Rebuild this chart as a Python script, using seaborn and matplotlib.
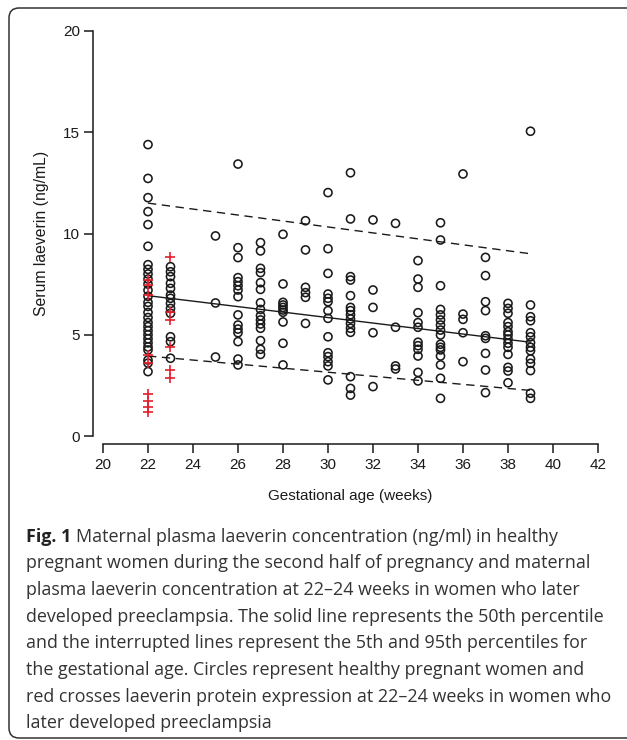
"""Serum laeverin by gestational age, with percentile lines and preeclampsia cases."""

import matplotlib

matplotlib.use("Agg")

import matplotlib.pyplot as plt
import pandas as pd
import seaborn as sns
from matplotlib.patches import FancyBboxPatch

# healthy women, serum laeverin (ng/mL) per gestational week
w22 = [14.39, 12.72, 11.77, 11.08, 10.44, 9.37, 8.46, 8.23, 8.0, 7.75, 7.5, 7.2,
       6.9, 6.6, 6.4, 6.1, 5.85, 5.6, 5.4, 5.2, 5.0, 4.8, 4.6, 4.4, 4.25, 3.75,
       3.6, 3.18]
w23 = [8.36, 8.11, 7.87, 7.54, 7.29, 6.96, 6.80, 6.55, 6.30, 6.06, 4.90, 4.66, 3.84]
w25 = [9.88, 6.57, 3.90]
w26 = [13.43, 9.30, 8.81, 7.82, 7.62, 7.42, 7.21, 6.88, 5.98, 5.48, 5.28, 5.10,
       4.66, 3.80, 3.51]
w27 = [9.55, 9.14, 8.28, 8.07, 7.57, 7.24, 6.58, 6.25, 5.94, 5.73, 5.53, 5.32,
       4.71, 4.28, 4.03]
w28 = [9.96, 7.51, 6.60, 6.47, 6.35, 6.22, 6.11, 5.63, 4.58, 3.51]
w29 = [10.63, 9.19, 7.34, 7.08, 6.85, 5.56]
w30 = [12.02, 9.25, 8.03, 7.01, 6.80, 6.63, 6.19, 5.81, 4.90, 4.11, 3.92, 3.67,
       3.46, 2.77]
w31 = [13.0, 10.72, 7.87, 7.70, 6.93, 6.35, 6.19, 5.99, 5.78, 5.56, 5.32, 5.12,
       2.93, 2.35, 2.02]
w32 = [10.67, 7.21, 6.35, 5.10, 2.44]
w33 = [10.50, 5.37, 3.46, 3.31]
w34 = [8.66, 7.75, 7.34, 6.09, 5.60, 5.37, 4.63, 4.46, 4.28, 3.95, 3.14, 2.72]
w35 = [10.53, 9.68, 7.42, 6.25, 5.98, 5.73, 5.48, 5.23, 4.99, 4.53, 4.38, 4.25,
       3.95, 3.51, 2.85, 1.86]
w36 = [12.94, 6.02, 5.76, 5.10, 3.67]
w37 = [8.82, 7.92, 6.63, 6.19, 4.95, 4.82, 4.08, 3.26, 2.14]
w38 = [6.55, 6.30, 6.06, 5.60, 5.40, 5.15, 4.99, 4.79, 4.58, 4.38, 4.03, 3.39,
       3.21, 2.63]
w39 = [15.05, 6.47, 5.89, 5.69, 5.10, 4.90, 4.61, 4.38, 4.21, 3.80, 3.59, 3.23,
       2.11, 1.86]

# women who later developed preeclampsia
pe22 = [7.70, 7.46, 6.96, 4.0, 3.59, 2.05, 1.75, 1.45, 1.2]
pe23 = [8.85, 6.14, 5.73, 4.41, 3.26, 2.85]

# percentile lines (start and end week)
pct_weeks = [22, 39]
p50 = [6.93, 4.63]
p5 = [3.95, 2.25]
p95 = [11.5, 9.0]

x_ticks = list(range(20, 43, 2))
y_ticks = [0, 5, 10, 15, 20]

caption_lines = [
    "Maternal plasma laeverin concentration (ng/ml) in healthy",
    "pregnant women during the second half of pregnancy and maternal",
    "plasma laeverin concentration at 22\u201324 weeks in women who later",
    "developed preeclampsia. The solid line represents the 50th percentile",
    "and the interrupted lines represent the 5th and 95th percentiles for",
    "the gestational age. Circles represent healthy pregnant women and",
    "red crosses laeverin protein expression at 22\u201324 weeks in women who",
    "later developed preeclampsia",
]

RED = "#e2202c"
INK = "#1a1a1a"


def build_frames():
    healthy = {22: w22, 23: w23, 25: w25, 26: w26, 27: w27, 28: w28, 29: w29,
               30: w30, 31: w31, 32: w32, 33: w33, 34: w34, 35: w35, 36: w36,
               37: w37, 38: w38, 39: w39}
    rows = [(wk, v) for wk, vals in healthy.items() for v in vals]
    healthy_df = pd.DataFrame(rows, columns=["week", "laeverin"])
    pe_rows = [(22, v) for v in pe22] + [(23, v) for v in pe23]
    pe_df = pd.DataFrame(pe_rows, columns=["week", "laeverin"])
    pct_df = pd.DataFrame({"week": pct_weeks, "p5": p5, "p50": p50, "p95": p95})
    return healthy_df, pe_df, pct_df


def main():
    sns.set_theme(style="ticks")
    plt.rcParams["font.family"] = ["Liberation Sans", "DejaVu Sans"]

    healthy_df, pe_df, pct_df = build_frames()

    fig = plt.figure(figsize=(6.27, 7.40), dpi=100)
    ax = fig.add_axes([103 / 627, 304 / 740, 495 / 627, 405 / 740])

    sns.lineplot(data=pct_df, x="week", y="p50", ax=ax, color=INK, lw=1.0)
    for col in ["p5", "p95"]:
        sns.lineplot(data=pct_df, x="week", y=col, ax=ax, color=INK, lw=1.0,
                     dashes=False, linestyle=(0, (6, 4)))

    sns.scatterplot(data=healthy_df, x="week", y="laeverin", ax=ax, marker="o",
                    s=34, facecolor="none", edgecolor=INK, linewidth=1.15, zorder=3)
    sns.scatterplot(data=pe_df, x="week", y="laeverin", ax=ax, marker="+",
                    s=60, color=RED, linewidth=1.2, zorder=4)

    ax.set_xlim(20, 42)
    ax.set_ylim(0, 20)
    ax.set_xticks(x_ticks)
    ax.set_yticks(y_ticks)
    ax.tick_params(labelsize=11, length=6.5, width=1.1, color=INK, pad=3,
                   labelcolor=INK)
    for side in ["top", "right"]:
        ax.spines[side].set_visible(False)
    ax.spines["left"].set_position(("outward", 7))
    ax.spines["bottom"].set_position(("outward", 6))
    ax.spines["left"].set_bounds(0, 20)
    ax.spines["bottom"].set_bounds(20, 42)
    for side in ["left", "bottom"]:
        ax.spines[side].set_linewidth(1.1)
        ax.spines[side].set_color(INK)

    ax.set_xlabel("Gestational age (weeks)", fontsize=11, color=INK, va="center")
    ax.set_ylabel("Serum laeverin (ng/mL)", fontsize=11.3, color=INK, va="center")
    ax.xaxis.set_label_coords(0.5, (436 - 496) / 405)
    ax.yaxis.set_label_coords((42 - 103) / 495, 0.5)

    # caption below the chart
    cap_font = ["Open Sans", "DejaVu Sans"]
    cap_size = 12.9
    x0 = 26 / 627
    baselines = [541.7 + 26.67 * i for i in range(len(caption_lines))]
    bold = fig.text(x0, 1 - baselines[0] / 740, "Fig. 1", fontsize=cap_size,
                    family=cap_font, weight="bold", color="#222222", va="baseline")
    renderer = fig.canvas.get_renderer()
    bbox = bold.get_window_extent(renderer=renderer)
    for i, line in enumerate(caption_lines):
        xpos = (bbox.x1 + 5) / 627 if i == 0 else x0
        fig.text(xpos, 1 - baselines[i] / 740, line, fontsize=cap_size,
                 family=cap_font, color="#333333", va="baseline")

    frame = FancyBboxPatch((0.09, 0.02), 6.6, 7.30,
                           boxstyle="round,pad=0,rounding_size=0.1",
                           transform=fig.dpi_scale_trans, fill=False,
                           edgecolor="#333333", linewidth=1.1)
    fig.patches.append(frame)

    fig.savefig("out.png", dpi=100)
    plt.close(fig)


if __name__ == "__main__":
    main()
